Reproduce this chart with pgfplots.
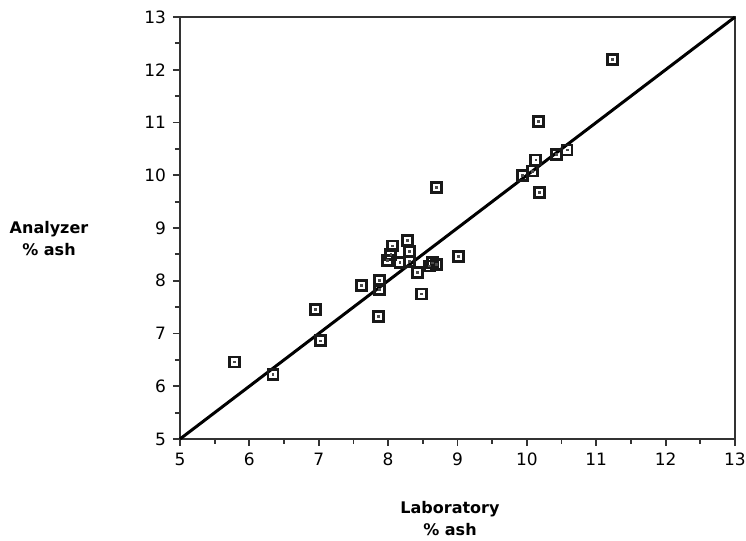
\documentclass[border=0pt]{standalone}
\usepackage{pgfplots}
\pgfplotsset{compat=1.18}
\usepackage{fontspec}
\setmainfont{DejaVu Sans}

\pgfplotstableread{
x y
5.78 6.46
6.34 6.22
6.95 7.45
7.02 6.86
7.62 7.91
7.88 8.01
7.88 7.83
7.86 7.32
7.99 8.38
8.04 8.50
8.06 8.66
8.17 8.35
8.28 8.77
8.31 8.55
8.31 8.36
8.42 8.16
8.48 7.75
8.60 8.28
8.64 8.34
8.70 8.31
8.70 9.77
9.01 8.46
9.94 10.00
10.08 10.08
10.13 10.29
10.17 11.02
10.18 9.67
10.43 10.40
10.58 10.48
11.23 12.20
}\ashdata

\begin{document}
\begin{tikzpicture}
\begin{axis}[
  scale only axis,
  width=277.5pt, height=211pt,
  xmin=5, xmax=13, ymin=5, ymax=13,
  xtick={5,...,13}, ytick={5,...,13},
  minor tick num=1,
  tick pos=left, tick align=outside,
  major tick length=3.5pt, minor tick length=2.5pt,
  axis line style={line width=0.9pt, color=black!80},
  every tick/.style={line width=0.9pt, color=black!80},
  tick label style={font=\fontsize{8.5}{10}\selectfont},
  /pgf/number format/assume math mode=true,
  clip=false,
]
\addplot[black, line width=1.5pt] coordinates {(5,5) (13,13)};
\addplot[only marks, mark=square, mark size=2.5pt,
  mark options={line width=1.4pt, draw=black!90, fill=white}] table[x=x,y=y] {\ashdata};
\addplot[only marks, mark=square*, mark size=0.45pt,
  mark options={draw=black!70, fill=black!70}] table[x=x,y=y] {\ashdata};
\end{axis}
\node[font=\bfseries\fontsize{8}{11}\selectfont, align=center]
  at ([xshift=-65.5pt, yshift=100pt]current axis.south west) {Analyzer\\\% ash};
\node[font=\bfseries\fontsize{8}{11}\selectfont, align=center]
  at ([xshift=135pt, yshift=-40pt]current axis.south west) {Laboratory\\\% ash};
\pgfresetboundingbox
\path[use as bounding box] ([xshift=-90pt, yshift=-51pt]current axis.south west)
  rectangle ([xshift=283pt, yshift=219.5pt]current axis.south west);
\end{tikzpicture}
\end{document}
